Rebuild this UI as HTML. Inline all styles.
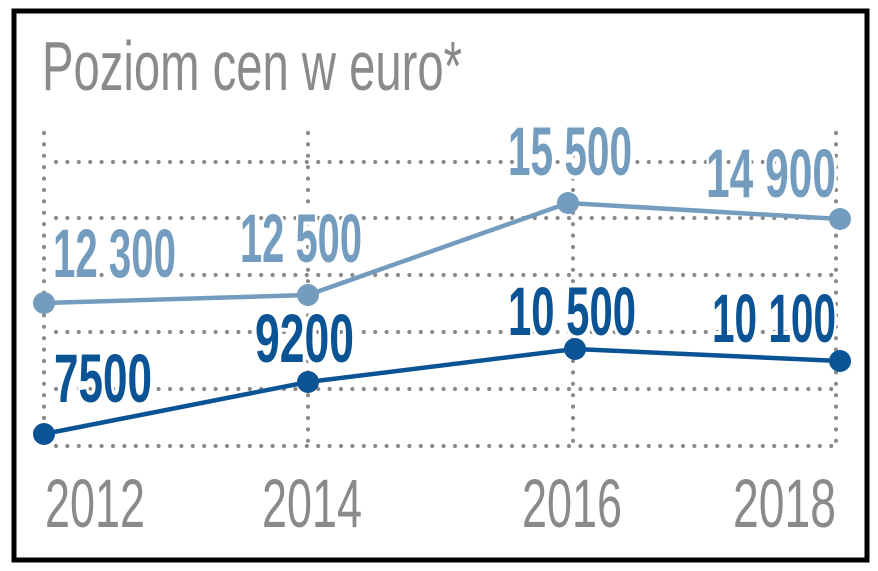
<!DOCTYPE html>
<html><head><meta charset="utf-8"><style>
html,body{margin:0;padding:0;background:#fff;width:878px;height:571px;overflow:hidden}
svg{display:block}
text{font-family:"Liberation Sans",sans-serif}
.b{font-weight:bold;stroke:#fff;stroke-width:8;paint-order:stroke;stroke-linejoin:round}
</style></head><body>
<svg width="878" height="571" viewBox="0 0 878 571">
<rect x="14" y="11" width="853" height="549" fill="#fff" stroke="#000" stroke-width="5"/>
<text x="42" y="90" font-size="70" fill="#8a8a8a" textLength="420" lengthAdjust="spacingAndGlyphs">Poziom cen w euro*</text>
<g stroke="#8a8a8a" stroke-width="4.2" stroke-linecap="round" stroke-dasharray="0 11.4" fill="none">
<line x1="56" y1="162" x2="836" y2="162"/>
<line x1="56" y1="218" x2="836" y2="218"/>
<line x1="56" y1="275" x2="836" y2="275"/>
<line x1="56" y1="332" x2="836" y2="332"/>
<line x1="56" y1="389" x2="836" y2="389"/>
<line x1="56" y1="446" x2="836" y2="446"/>
<line x1="44" y1="133" x2="44" y2="446"/>
<line x1="308" y1="133" x2="308" y2="446"/>
<line x1="573" y1="133" x2="573" y2="446"/>
<line x1="836" y1="133" x2="836" y2="446"/>
</g>
<g font-size="69">
<text class="b" x="53" y="277" fill="#739cbf" textLength="123" lengthAdjust="spacingAndGlyphs">12 300</text>
<text class="b" x="240" y="262" fill="#739cbf" textLength="122" lengthAdjust="spacingAndGlyphs">12 500</text>
<text class="b" x="508" y="175" fill="#739cbf" textLength="124" lengthAdjust="spacingAndGlyphs">15 500</text>
<text class="b" x="706" y="197" fill="#739cbf" textLength="130" lengthAdjust="spacingAndGlyphs">14 900</text>
<text class="b" x="54" y="402" fill="#0a5394" textLength="98" lengthAdjust="spacingAndGlyphs">7500</text>
<text class="b" x="255" y="362" fill="#0a5394" textLength="99" lengthAdjust="spacingAndGlyphs">9200</text>
<text class="b" x="508" y="335" fill="#0a5394" textLength="128" lengthAdjust="spacingAndGlyphs">10 500</text>
<text class="b" x="712" y="342" fill="#0a5394" textLength="124" lengthAdjust="spacingAndGlyphs">10 100</text>
</g>
<polyline points="44,303 308,295 568,203 840,219" fill="none" stroke="#739cbf" stroke-width="4.5"/>
<polyline points="44,434 308,382 575,349 840,361" fill="none" stroke="#0a5394" stroke-width="4.5"/>
<g fill="#739cbf"><circle cx="44" cy="303" r="11"/><circle cx="308" cy="295" r="11"/><circle cx="568" cy="203" r="11"/><circle cx="840" cy="219" r="11"/></g>
<g fill="#0a5394"><circle cx="44" cy="434" r="11"/><circle cx="308" cy="382" r="11"/><circle cx="575" cy="349" r="11"/><circle cx="840" cy="361" r="11"/></g>
<g font-size="69" fill="#8a8a8a">
<text x="45" y="527" textLength="100" lengthAdjust="spacingAndGlyphs">2012</text>
<text x="262" y="527" textLength="100" lengthAdjust="spacingAndGlyphs">2014</text>
<text x="522" y="527" textLength="100" lengthAdjust="spacingAndGlyphs">2016</text>
<text x="733" y="527" textLength="103" lengthAdjust="spacingAndGlyphs">2018</text>
</g>
</svg>
</body></html>
